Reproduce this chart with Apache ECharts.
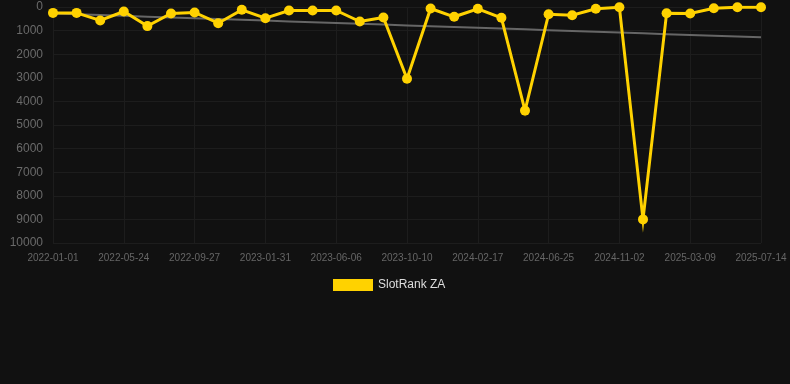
<!DOCTYPE html>
<html>
<head>
<meta charset="utf-8">
<script src="https://cdn.jsdelivr.net/npm/echarts@6/dist/echarts.min.js"></script>
<style>
  html, body { margin: 0; padding: 0; background: #111111; }
  #chart { width: 790px; height: 384px; }
</style>
</head>
<body>
<div id="chart"></div>
<script>
// dates on the x axis (every third one is labelled)
var dates = [
    '2022-01-01', '2022-02-17', '2022-04-05', '2022-05-24', '2022-07-05', '2022-08-16',
    '2022-09-27', '2022-11-08', '2022-12-20', '2023-01-31', '2023-03-15', '2023-04-25',
    '2023-06-06', '2023-07-18', '2023-08-29', '2023-10-10', '2023-11-21', '2024-01-05',
    '2024-02-17', '2024-03-31', '2024-05-12', '2024-06-25', '2024-08-06', '2024-09-20',
    '2024-11-02', '2024-12-14', '2025-01-25', '2025-03-09', '2025-04-20', '2025-06-01',
    '2025-07-14'
];
// rank values (lower is better, axis is inverted)
var ranks = [
    250, 250, 570, 190, 810, 275, 233, 686, 120, 474, 148,
    148, 148, 614, 445, 3040, 64, 415, 76, 458, 4390, 305,
    347, 76, 10, 9000, 262, 275, 50, 10, 10
];
var yTicks = [0, 1000, 2000, 3000, 4000, 5000, 6000, 7000, 8000, 9000, 10000];

// least squares trend over the ranks
function trendOf(vals) {
    var n = vals.length, sx = 0, sy = 0, sxy = 0, sxx = 0;
    vals.forEach(function (v, i) { sx += i; sy += v; sxy += i * v; sxx += i * i; });
    var b = (n * sxy - sx * sy) / (n * sxx - sx * sx);
    var a = (sy - b * sx) / n;
    return vals.map(function (v, i) { return +(a + b * i).toFixed(1); });
}

(function () {
    var myChart = echarts.init(document.getElementById('chart'));
    var option = {
        backgroundColor: '#111111',
        animation: false,
        grid: { left: 53, right: 29, top: 7, bottom: 141 },
        legend: {
            data: [{ name: 'SlotRank ZA', icon: 'rect' }],
            bottom: 93,
            left: 333,
            padding: 0,
            itemWidth: 40,
            itemHeight: 12,
            itemGap: 10,
            textStyle: { color: '#dddddd', fontSize: 12, fontFamily: 'Liberation Sans, Arial' }
        },
        xAxis: {
            type: 'category',
            data: dates,
            boundaryGap: false,
            axisLine: { show: false },
            axisTick: { show: false },
            axisLabel: {
                interval: 2,
                color: '#666666',
                fontSize: 10,
                fontFamily: 'Liberation Sans, Arial',
                margin: 10
            },
            splitLine: { show: true, interval: 2, lineStyle: { color: '#1d1d1d', width: 1 } }
        },
        yAxis: {
            type: 'value',
            inverse: true,
            min: yTicks[0],
            max: yTicks[yTicks.length - 1],
            interval: 1000,
            axisLine: { show: false },
            axisTick: { show: false },
            axisLabel: {
                color: '#6a6a6a',
                fontSize: 12,
                fontFamily: 'Liberation Sans, Arial',
                margin: 10,
                formatter: function (v) { return String(v); }
            },
            splitLine: { lineStyle: { color: '#1d1d1d', width: 1 } }
        },
        series: [
            {
                name: 'Trend',
                type: 'line',
                data: trendOf(ranks),
                symbol: 'none',
                silent: true,
                lineStyle: { color: '#666666', width: 2 },
                z: 1
            },
            {
                name: 'SlotRank ZA',
                type: 'line',
                data: ranks,
                symbol: 'circle',
                symbolSize: 10,
                itemStyle: { color: '#ffd200' },
                lineStyle: { color: '#ffd200', width: 3, join: 'miter' },
                z: 2
            }
        ]
    };
    myChart.setOption(option);
    window.addEventListener('resize', function () {
        myChart.resize();
    });
})();
</script>
</body>
</html>
